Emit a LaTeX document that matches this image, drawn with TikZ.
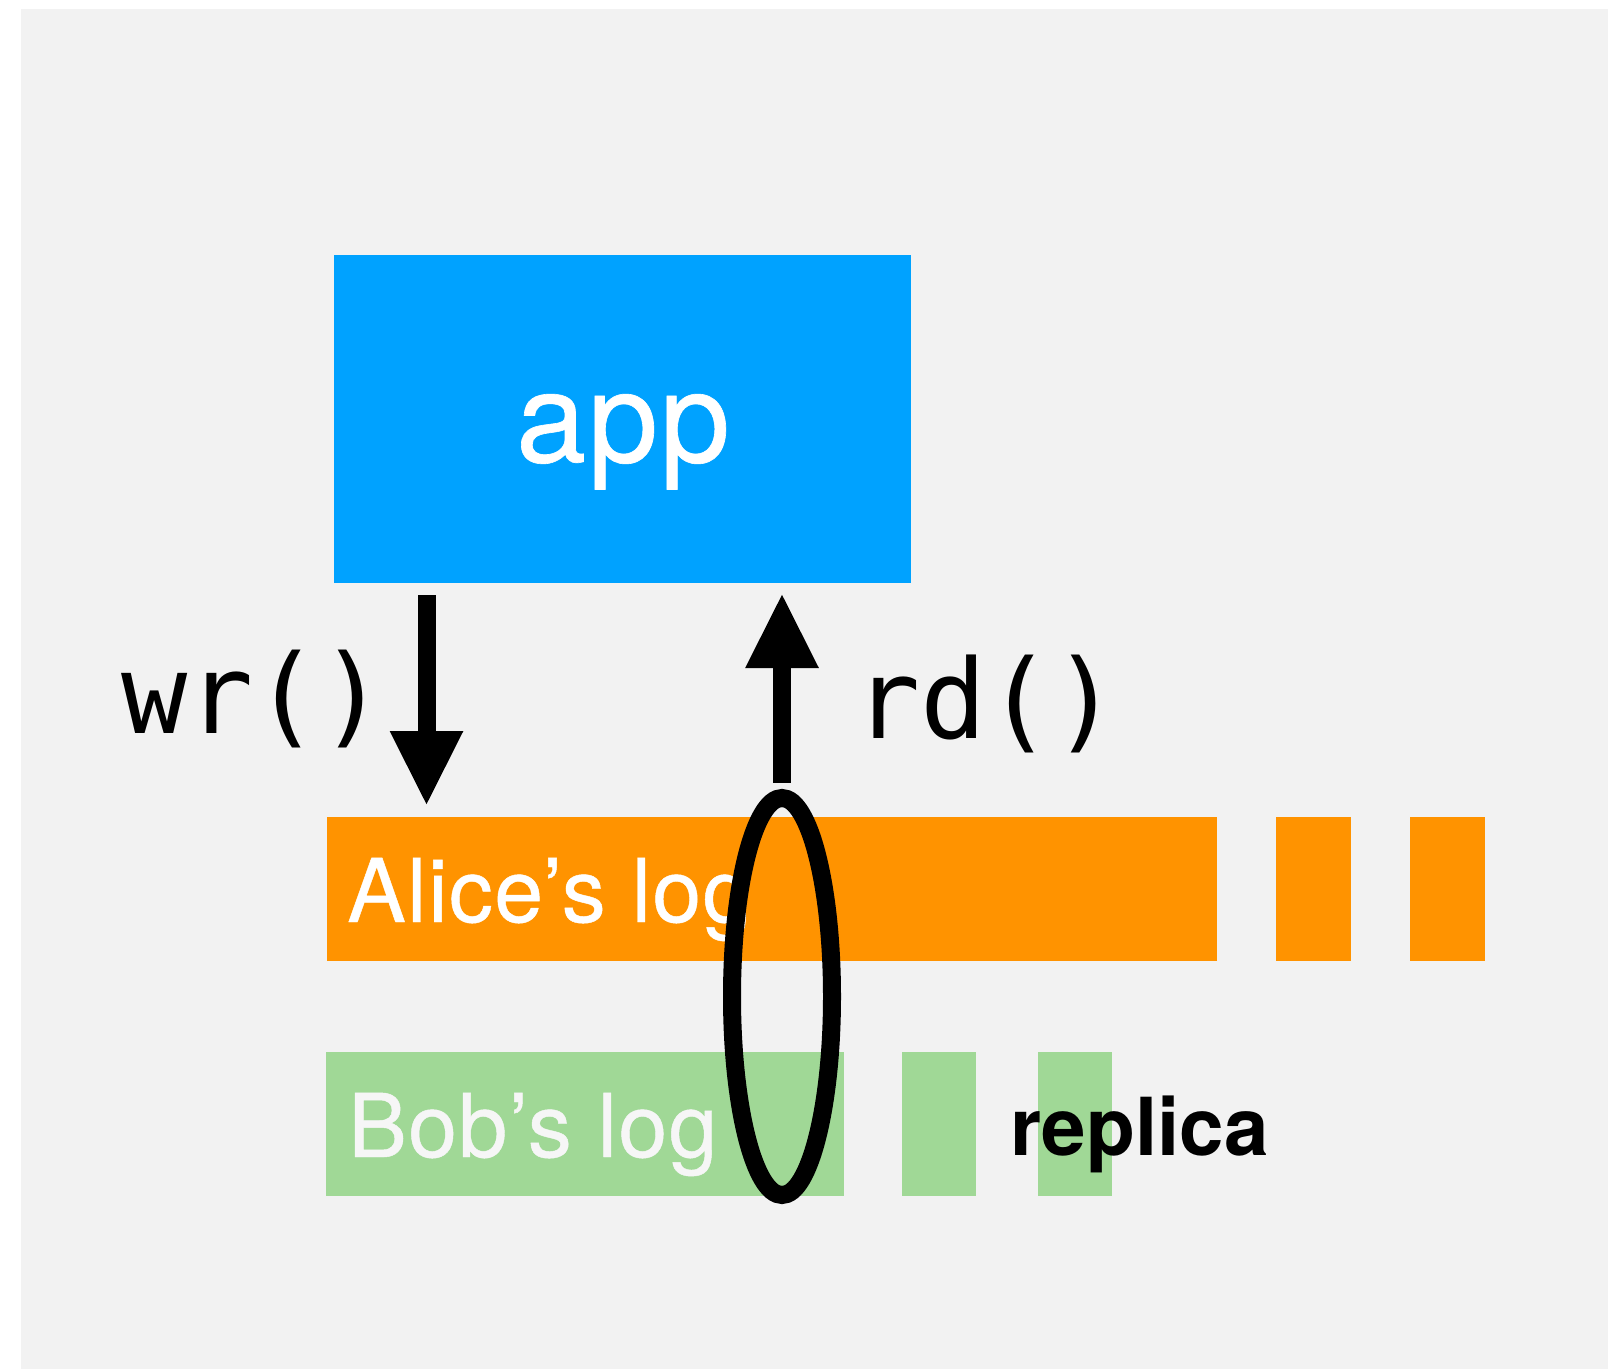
\documentclass[tikz,border=0pt]{standalone}
\usepackage{fontspec}
\usetikzlibrary{arrows.meta,shapes.geometric,positioning}
\newfontfamily\heros[FakeBold=0.5,LetterSpace=1.5]{TeX Gyre Heros}
\newfontfamily\herosbold{TeX Gyre Heros Bold}
\newfontfamily\monofont{DejaVu Sans Mono}
\definecolor{appblue}{RGB}{0,162,255}
\definecolor{logorange}{RGB}{255,147,0}
\definecolor{loggreen}{RGB}{160,216,150}
\definecolor{paper}{RGB}{242,242,242}
\definecolor{bobwhite}{RGB}{246,246,246}
\tikzset{
	block/.style={fill=#1, inner sep=0pt, outer sep=0pt},
	bigarrow/.style={line width=18bp, -{Triangle[width=68bp,length=75bp]}},
	logtext/.style={text=white, font=\heros\fontsize{88bp}{100bp}\selectfont, inner sep=0pt, anchor=base west},
	calltext/.style={font=\monofont\fontsize{110bp}{130bp}\selectfont, inner sep=0pt, anchor=base west},
}
\begin{document}
\begin{tikzpicture}[x=1bp, y=-1bp]
				\useasboundingbox (0,0) rectangle (1608,1369);
				\fill[paper] (21,9) rectangle (1608,1368.5);
				% app
				\node[block=appblue, minimum width=577bp, minimum height=327bp] (app) at (622,419) {};
				\node[text=white, font=\heros\fontsize{126bp}{140bp}\selectfont, inner sep=0pt, anchor=base] (apptext) at ([xshift=1bp,yshift=-43bp]app.center) {app};
				% Alice's log
				\node[block=logorange, minimum width=890bp, minimum height=144bp] (alice) at (772,889) {};
				\foreach \x [count=\i] in {1313.5,1447.5}{
					\node[block=logorange, minimum width=75bp, minimum height=144bp] (alice\i) at (\x,889) {};
				}
				\node[logtext] (alicetext) at ([xshift=20bp,yshift=-33bp]alice.west) {Alice’s log};
				% Bob's log
				\node[block=loggreen, minimum width=518bp, minimum height=144bp] (bob) at (585,1124) {};
				\foreach \x [count=\i] in {939,1075}{
					\node[block=loggreen, minimum width=74bp, minimum height=144bp] (bob\i) at (\x,1124) {};
				}
				\node[logtext, text=bobwhite] (bobtext) at ([xshift=22bp,yshift=-33bp]bob.west) {Bob’s log};
				% cut across both logs
				\node[draw, ellipse, line width=18bp, minimum width=100bp, minimum height=397bp, inner sep=0pt, outer sep=0pt] (cut) at (782,996.5) {};
				% calls
				\coordinate (wrtop) at ([xshift=93bp]app.south west);
				\draw[bigarrow, shorten <=12.5bp, shorten >=11bp] (wrtop) -- (wrtop |- alice.north);
				\node[calltext] (wr) at (121,733) {wr()};
				\draw[bigarrow, shorten <=15.5bp, shorten >=10.5bp] (cut.north) -- (cut.north |- app.south);
				\node[calltext] (rd) at (854,738) {rd()};
				\node[font=\herosbold\fontsize{80bp}{95bp}\selectfont, inner sep=0pt, anchor=base west] (replica) at (1010,1155) {replica};
			\end{tikzpicture}
\end{document}
